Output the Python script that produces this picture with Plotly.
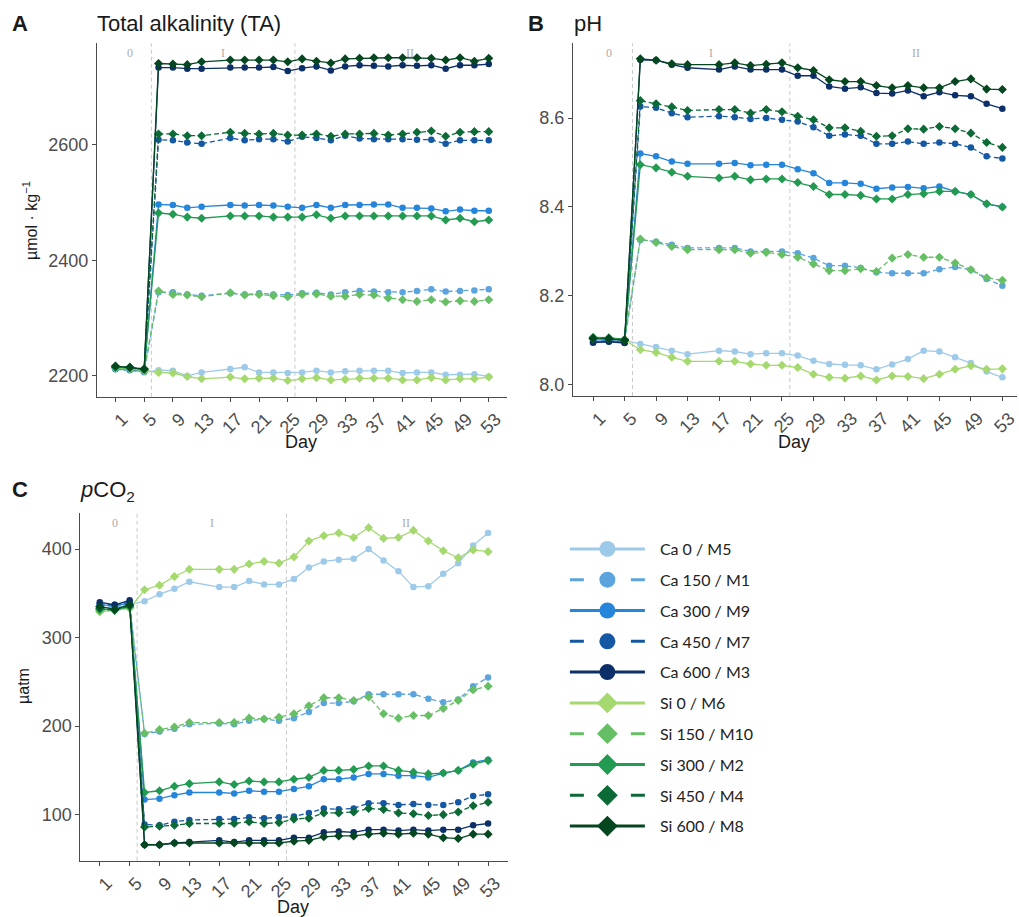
import plotly.graph_objects as go

days = [1, 3, 5, 7, 9, 11, 13, 17, 19, 21, 23, 25, 27, 29, 31, 33, 35, 37, 39, 41, 43, 45, 47, 49, 51, 53]
tick_days = [1, 5, 9, 13, 17, 21, 25, 29, 33, 37, 41, 45, 49, 53]

series_names = ["Ca 0 / M5", "Ca 150 / M1", "Ca 300 / M9", "Ca 450 / M7", "Ca 600 / M3",
                "Si 0 / M6", "Si 150 / M10", "Si 300 / M2", "Si 450 / M4", "Si 600 / M8"]
series_colors = ["#9ECAE9", "#5BA4DE", "#2585DA", "#1457A2", "#0B2F66",
                 "#A5D86F", "#66BE65", "#239A51", "#0B6A35", "#03461F"]

# Total alkalinity (umol/kg)
ta_ca0 = [2211, 2210, 2206, 2210, 2209, 2200, 2206, 2212, 2215, 2206, 2206, 2205, 2206, 2209, 2206, 2208, 2209, 2209, 2209, 2205, 2206, 2206, 2202, 2202, 2203, 2199]
ta_ca150 = [2212, 2210, 2207, 2345, 2345, 2341, 2339, 2343, 2341, 2343, 2341, 2340, 2343, 2344, 2341, 2345, 2347, 2346, 2345, 2345, 2347, 2350, 2346, 2347, 2348, 2350]
ta_ca300 = [2212, 2211, 2208, 2497, 2496, 2491, 2493, 2496, 2495, 2496, 2495, 2493, 2491, 2496, 2491, 2496, 2496, 2497, 2497, 2491, 2491, 2490, 2485, 2488, 2486, 2486]
ta_ca450 = [2213, 2212, 2209, 2609, 2608, 2604, 2602, 2612, 2608, 2610, 2610, 2606, 2614, 2612, 2608, 2616, 2611, 2610, 2610, 2610, 2609, 2609, 2602, 2608, 2608, 2608]
ta_ca600 = [2214, 2213, 2210, 2734, 2734, 2732, 2732, 2734, 2734, 2734, 2735, 2728, 2733, 2736, 2729, 2736, 2738, 2737, 2736, 2738, 2737, 2738, 2732, 2738, 2738, 2740]
ta_si0 = [2213, 2212, 2209, 2206, 2205, 2199, 2195, 2198, 2195, 2196, 2196, 2192, 2195, 2197, 2193, 2194, 2196, 2196, 2196, 2193, 2193, 2197, 2193, 2195, 2195, 2198]
ta_si150 = [2214, 2213, 2210, 2347, 2341, 2340, 2337, 2344, 2340, 2341, 2339, 2337, 2341, 2342, 2338, 2338, 2341, 2340, 2335, 2332, 2329, 2332, 2328, 2330, 2329, 2332]
ta_si300 = [2215, 2214, 2211, 2482, 2480, 2475, 2473, 2477, 2477, 2477, 2475, 2475, 2475, 2479, 2473, 2477, 2477, 2477, 2477, 2477, 2477, 2477, 2470, 2473, 2467, 2470]
ta_si450 = [2216, 2215, 2212, 2619, 2619, 2616, 2616, 2622, 2620, 2619, 2620, 2617, 2617, 2619, 2615, 2619, 2619, 2620, 2617, 2619, 2622, 2624, 2615, 2622, 2623, 2623]
ta_si600 = [2217, 2215, 2212, 2741, 2740, 2739, 2744, 2747, 2747, 2747, 2747, 2744, 2749, 2745, 2742, 2749, 2750, 2751, 2751, 2751, 2751, 2750, 2747, 2751, 2745, 2750]

# pH
ph_ca0 = [8.100, 8.101, 8.100, 8.092, 8.085, 8.077, 8.069, 8.077, 8.075, 8.069, 8.071, 8.071, 8.066, 8.054, 8.047, 8.045, 8.044, 8.035, 8.046, 8.058, 8.077, 8.075, 8.062, 8.049, 8.030, 8.017]
ph_ca150 = [8.098, 8.100, 8.097, 8.326, 8.322, 8.315, 8.308, 8.308, 8.308, 8.300, 8.300, 8.300, 8.296, 8.285, 8.268, 8.268, 8.263, 8.253, 8.251, 8.251, 8.251, 8.260, 8.265, 8.259, 8.238, 8.223]
ph_ca300 = [8.097, 8.099, 8.096, 8.520, 8.514, 8.502, 8.497, 8.497, 8.499, 8.494, 8.495, 8.495, 8.485, 8.476, 8.454, 8.454, 8.452, 8.441, 8.444, 8.445, 8.442, 8.446, 8.435, 8.428, 8.407, 8.400]
ph_ca450 = [8.096, 8.098, 8.095, 8.626, 8.623, 8.611, 8.602, 8.604, 8.602, 8.598, 8.600, 8.596, 8.592, 8.579, 8.560, 8.563, 8.560, 8.542, 8.542, 8.547, 8.542, 8.545, 8.542, 8.534, 8.514, 8.509]
ph_ca600 = [8.095, 8.097, 8.094, 8.731, 8.730, 8.720, 8.713, 8.709, 8.716, 8.709, 8.709, 8.709, 8.695, 8.695, 8.671, 8.666, 8.669, 8.656, 8.655, 8.662, 8.649, 8.658, 8.651, 8.649, 8.632, 8.621]
ph_si0 = [8.104, 8.104, 8.101, 8.079, 8.073, 8.062, 8.053, 8.053, 8.053, 8.047, 8.044, 8.044, 8.039, 8.024, 8.017, 8.015, 8.020, 8.011, 8.020, 8.019, 8.014, 8.024, 8.035, 8.043, 8.035, 8.036]
ph_si150 = [8.106, 8.105, 8.102, 8.328, 8.320, 8.311, 8.304, 8.304, 8.304, 8.296, 8.298, 8.293, 8.287, 8.272, 8.257, 8.257, 8.261, 8.255, 8.285, 8.293, 8.287, 8.287, 8.274, 8.259, 8.241, 8.235]
ph_si300 = [8.107, 8.106, 8.102, 8.495, 8.488, 8.478, 8.469, 8.465, 8.469, 8.461, 8.463, 8.463, 8.455, 8.446, 8.428, 8.428, 8.426, 8.418, 8.418, 8.428, 8.430, 8.435, 8.435, 8.428, 8.407, 8.400]
ph_si450 = [8.105, 8.105, 8.101, 8.639, 8.632, 8.625, 8.617, 8.619, 8.619, 8.611, 8.619, 8.614, 8.604, 8.596, 8.578, 8.578, 8.570, 8.559, 8.560, 8.576, 8.575, 8.581, 8.576, 8.566, 8.545, 8.534]
ph_si600 = [8.104, 8.103, 8.100, 8.733, 8.730, 8.722, 8.720, 8.720, 8.724, 8.718, 8.721, 8.724, 8.713, 8.707, 8.686, 8.682, 8.682, 8.673, 8.668, 8.673, 8.668, 8.668, 8.682, 8.688, 8.665, 8.664]

# pCO2 (uatm)
pco2_ca0 = [333, 334, 337, 341, 349, 355, 363, 357, 357, 364, 360, 360, 366, 379, 386, 388, 389, 400, 387, 375, 357, 358, 372, 384, 404, 418]
pco2_ca150 = [336, 335, 338, 191, 194, 197, 202, 203, 202, 206, 208, 206, 209, 216, 226, 226, 228, 236, 236, 236, 236, 231, 227, 230, 245, 255]
pco2_ca300 = [337, 336, 339, 117, 118, 122, 125, 125, 124, 127, 126, 126, 129, 132, 140, 140, 142, 146, 146, 144, 144, 142, 147, 150, 159, 162]
pco2_ca450 = [338, 337, 340, 89, 88, 92, 94, 95, 95, 97, 96, 97, 98, 102, 107, 106, 107, 113, 113, 111, 112, 111, 111, 114, 121, 123]
pco2_ca600 = [340, 337, 342, 66, 66, 68, 69, 71, 69, 71, 71, 71, 74, 74, 80, 81, 80, 83, 83, 82, 83, 82, 83, 83, 88, 90]
pco2_si0 = [329, 331, 333, 354, 359, 369, 377, 377, 377, 383, 386, 384, 391, 409, 415, 418, 413, 424, 412, 413, 421, 409, 398, 390, 399, 397]
pco2_si150 = [330, 331, 334, 192, 196, 199, 204, 204, 204, 209, 208, 210, 214, 223, 232, 232, 229, 233, 214, 209, 212, 212, 220, 229, 241, 245]
pco2_si300 = [332, 331, 335, 125, 127, 132, 135, 137, 134, 138, 137, 137, 140, 142, 150, 150, 151, 155, 155, 150, 148, 146, 147, 150, 157, 161]
pco2_si450 = [333, 331, 336, 86, 87, 88, 90, 90, 90, 92, 90, 91, 95, 96, 102, 102, 103, 107, 106, 102, 101, 99, 100, 103, 110, 114]
pco2_si600 = [335, 332, 337, 66, 66, 68, 68, 68, 68, 68, 68, 68, 70, 71, 75, 76, 76, 78, 79, 78, 79, 78, 74, 73, 78, 78]

phase_labels = ["0", "I", "II"]
phase_label_days = [3, 16, 42]
phase_break_days = [6, 26]

ta_all = [ta_ca0, ta_ca150, ta_ca300, ta_ca450, ta_ca600, ta_si0, ta_si150, ta_si300, ta_si450, ta_si600]
ph_all = [ph_ca0, ph_ca150, ph_ca300, ph_ca450, ph_ca600, ph_si0, ph_si150, ph_si300, ph_si450, ph_si600]
pco2_all = [pco2_ca0, pco2_ca150, pco2_ca300, pco2_ca450, pco2_ca600, pco2_si0, pco2_si150, pco2_si300, pco2_si450, pco2_si600]

W, H = 1019, 917
FONT = "Liberation Sans, Arial, sans-serif"


def px_x(p):
    return p / W


def px_y(p):
    return 1 - p / H


fig = go.Figure()

panels = [("x", "y", ta_all), ("x2", "y2", ph_all), ("x3", "y3", pco2_all)]
for i, name in enumerate(series_names):
    is_si = name.startswith("Si")
    dashed = ("150" in name) or ("450" in name)
    sym = "diamond" if is_si else "circle"
    msize = 7 if is_si else 6.5
    for xa, ya, data in panels:
        fig.add_trace(go.Scatter(
            x=days, y=data[i], xaxis=xa, yaxis=ya, mode="lines+markers",
            line=dict(color=series_colors[i], width=1.3, dash="5px,3px" if dashed else "solid"),
            marker=dict(symbol=sym, size=msize, color=series_colors[i]),
            showlegend=False, hoverinfo="skip"))
    # legend entry (no data)
    fig.add_trace(go.Scatter(
        x=[None], y=[None], xaxis="x3", yaxis="y3", mode="lines+markers", name="\u2002\u2009" + name,
        legendgroup=name,
        line=dict(color=series_colors[i], width=3, dash="14px,47px" if dashed else "solid"),
        marker=dict(symbol=sym, size=16, color=series_colors[i]),
        showlegend=True, hoverinfo="skip"))

axis_common = dict(showgrid=False, zeroline=False, showline=True, linecolor="#4a4a4a", linewidth=1,
                   ticks="outside", ticklen=4, tickcolor="#4a4a4a", tickwidth=1,
                   tickfont=dict(family=FONT, size=18, color="#4D4D4D"))

xcommon = dict(axis_common, tickvals=tick_days, ticktext=[str(d) for d in tick_days], tickangle=-45,
               ticklabelshift=7, ticklabeloverflow="allow")

fig.update_layout(
    width=W, height=H, margin=dict(l=0, r=0, t=0, b=0),
    paper_bgcolor="white", plot_bgcolor="white",
    xaxis=dict(xcommon, domain=[px_x(97), px_x(508.4)], range=[-1.6, 55.6], anchor="y"),
    yaxis=dict(axis_common, domain=[px_y(396.7), px_y(43.3)], range=[2164, 2776], tickvals=[2200, 2400, 2600], anchor="x"),
    xaxis2=dict(xcommon, domain=[px_x(574), 1.0], range=[-1.57, 54.86], anchor="y2"),
    yaxis2=dict(axis_common, domain=[px_y(396), px_y(43.3)], range=[7.975, 8.768], tickvals=[8.0, 8.2, 8.4, 8.6], tickformat=".1f", anchor="x2"),
    xaxis3=dict(xcommon, domain=[px_x(80.5), px_x(508.5)], range=[-1.6, 55.6], anchor="y3"),
    yaxis3=dict(axis_common, domain=[px_y(860.7), px_y(512.7)], range=[48, 441], tickvals=[100, 200, 300, 400], anchor="x3"),
    legend=dict(x=px_x(566), y=px_y(532), xanchor="left", yanchor="top",
                font=dict(family="Lato, Open Sans, sans-serif", size=16, color="#222222"),
                itemwidth=75, traceorder="grouped", tracegroupgap=7, bgcolor="rgba(0,0,0,0)"),
    showlegend=True,
)

shapes = []
annotations = []
for xa, ya in [("x", "y"), ("x2", "y2"), ("x3", "y3")]:
    for d in phase_break_days:
        shapes.append(dict(type="line", xref=xa, yref=ya + " domain", x0=d, x1=d, y0=0, y1=1,
                           line=dict(color="#C8C8C8", width=1, dash="4px,3px"), layer="below"))
    for lab, d in zip(phase_labels, phase_label_days):
        annotations.append(dict(text=lab, xref=xa, yref=ya + " domain", x=d, y=1.0, yanchor="top",
                                xanchor="center", showarrow=False, yshift=-1,
                                font=dict(family="Liberation Serif, serif", size=12, color="#ABABAB")))


def ann(text, x, y, size, bold=False, xanchor="left", angle=0, color="#1a1a1a"):
    annotations.append(dict(text=f"<b>{text}</b>" if bold else text, xref="paper", yref="paper",
                            x=px_x(x), y=px_y(y), xanchor=xanchor, yanchor="middle", showarrow=False,
                            textangle=angle, font=dict(family=FONT, size=size, color=color)))


ann("A", 10, 23, 22, bold=True)
ann("Total alkalinity (TA)", 95, 23, 22)
ann("B", 527, 23, 22, bold=True)
ann("pH", 573, 23, 22)
ann("C", 10, 489, 22, bold=True)
ann("<i>p</i>CO<sub>2</sub>", 78, 491, 22)
ann("µmol · kg<sup>−1</sup>", 30, 220, 16, xanchor="center", angle=-90)
ann("µatm", 23, 686, 16, xanchor="center", angle=-90)
ann("Day", 302, 442, 18, xanchor="center")
ann("Day", 796, 442, 18, xanchor="center")
ann("Day", 294, 907, 18, xanchor="center")

fig.update_layout(shapes=shapes, annotations=annotations)
fig.write_html("out.html", config={"displayModeBar": False},
               post_script="document.body.style.margin='0';document.body.style.overflow='hidden';")
